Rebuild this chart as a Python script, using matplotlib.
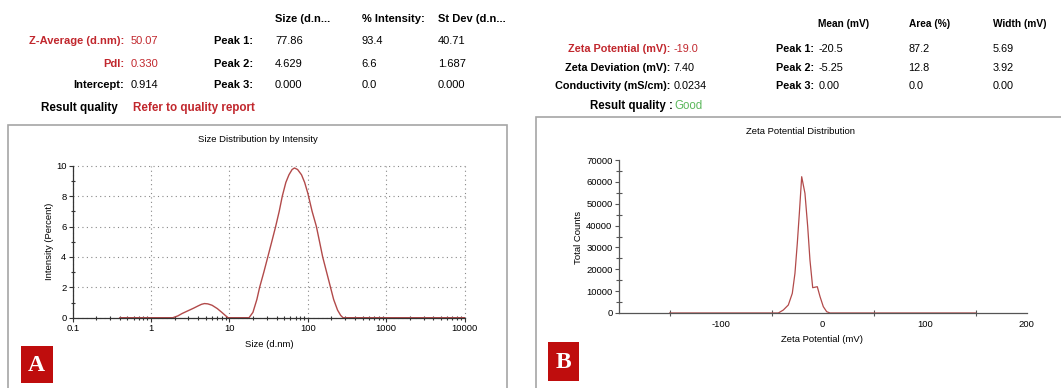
import matplotlib
matplotlib.use("Agg")
import matplotlib.pyplot as plt
from matplotlib.patches import Rectangle
from matplotlib.ticker import FixedLocator, NullFormatter, FixedFormatter

plt.rcParams['font.family'] = ['Liberation Sans', 'DejaVu Sans']
plt.rcParams['axes.unicode_minus'] = False

# ---------------- data ----------------
size_nm = [0.4, 0.6, 1.0, 1.5, 1.9, 2.2, 2.5, 3.0, 3.5, 4.0, 4.4, 4.8, 5.3, 6.0,
           7.0, 8.0, 9.0, 9.6, 12.0, 15.0, 17.8, 19.95, 22.4, 24.3, 27.5, 30.9,
           34.7, 38.9, 43.2, 47.3, 52.5, 57.5, 63.1, 67.6, 74.1, 83.2, 91.2,
           100.0, 113.5, 128.8, 141.3, 154.9, 173.8, 195.0, 213.8, 239.9, 263.0,
           281.8, 400.0, 1000.0, 3000.0, 10000.0]
intensity_pct = [0, 0, 0, 0, 0, 0.12, 0.28, 0.47, 0.63, 0.78, 0.88, 0.93, 0.91, 0.82,
                 0.6, 0.35, 0.12, 0, 0, 0, 0, 0.35, 1.2, 2.0, 3.0, 4.0,
                 5.0, 6.0, 7.0, 8.0, 8.9, 9.4, 9.75, 9.85, 9.75, 9.4, 8.9,
                 8.2, 7.0, 6.0, 5.0, 4.0, 3.0, 2.0, 1.2, 0.5, 0.15,
                 0, 0, 0, 0, 0]

zeta_mv = [-150, -100, -50, -43.5, -38.6, -33.7, -29.8, -27.2, -24.9, -22.9,
           -20.6, -17.4, -14.7, -12.5, -9.8, -5.3, -2.6, 0.6, 3.9, 7.2,
           20, 50, 100, 150]
zeta_counts = [0, 0, 0, 0, 1370, 3660, 9000, 18160, 31900, 45600,
               62360, 54760, 39500, 24250, 11580, 12030, 7460, 2900, 600, 0,
               0, 0, 0, 0]

size_ticks = [0.1, 1, 10, 100, 1000, 10000]
size_tick_labels = ["0.1", "1", "10", "100", "1000", "10000"]
zeta_ticks = [-100, 0, 100, 200]
zeta_minor = [-150, -50, 50, 150, 200]

left_header = ["Size (d.n...", "% Intensity:", "St Dev (d.n..."]
left_rows = [("Z-Average (d.nm):", "50.07", "Peak 1:", "77.86", "93.4", "40.71"),
             ("PdI:", "0.330", "Peak 2:", "4.629", "6.6", "1.687"),
             ("Intercept:", "0.914", "Peak 3:", "0.000", "0.0", "0.000")]
right_header = ["Mean (mV)", "Area (%)", "Width (mV)"]
right_rows = [("Zeta Potential (mV):", "-19.0", "Peak 1:", "-20.5", "87.2", "5.69"),
              ("Zeta Deviation (mV):", "7.40", "Peak 2:", "-5.25", "12.8", "3.92"),
              ("Conductivity (mS/cm):", "0.0234", "Peak 3:", "0.00", "0.0", "0.00")]

# ---------------- figure ----------------
W, H = 1061, 388
fig = plt.figure(figsize=(W / 100, H / 100), dpi=100)
fig.patch.set_facecolor('white')

RED = '#c1272d'
LINE = '#b24a4a'
GREEN = '#5cb85c'
BOXRED = '#bf0d0d'
GREY = '#a6a6a6'


def fx(x):
    return x / W


def fy(y):
    return 1 - y / H


def ptxt(x, y, s, **kw):
    kw.setdefault('va', 'center')
    fig.text(fx(x), fy(y), s, **kw)


def ax_rect(x0, x1, ytop, ybot):
    return [fx(x0), fy(ybot), (x1 - x0) / W, (ybot - ytop) / H]

# panel frames
fig.add_artist(Rectangle((fx(8.3), fy(395)), (506.7 - 8.3) / W, (395 - 125) / H,
                         transform=fig.transFigure, fill=False, ec=GREY, lw=1.2))
fig.add_artist(Rectangle((fx(536), fy(395)), (1070 - 536) / W, (395 - 116.7) / H,
                         transform=fig.transFigure, fill=False, ec=GREY, lw=1.2))

# ---------------- left header ----------------
fs = 8.0
ys = [40.6, 63.7, 84.7]
for x, s in zip([275, 361.7, 437.9], left_header):
    ptxt(x, 18.6, s, fontsize=fs, weight='bold', ha='left')
for i, row in enumerate(left_rows):
    col = RED if i < 2 else 'black'
    ptxt(124.3, ys[i], row[0], fontsize=fs, weight='bold', ha='right', color=col)
    ptxt(130.4, ys[i], row[1], fontsize=fs, ha='left', color=col)
    ptxt(253.3, ys[i], row[2], fontsize=fs, weight='bold', ha='right')
    for x, s in zip([275, 361.7, 437.9], row[3:]):
        ptxt(x, ys[i], s, fontsize=fs, ha='left')
ptxt(41.3, 107.7, "Result quality", fontsize=8.4, weight='bold', ha='left')
ptxt(133, 107.7, "Refer to quality report", fontsize=8.4, weight='bold', ha='left', color=RED)

# ---------------- right header ----------------
fs2 = 7.8
ys2 = [49.0, 67.7, 86.4]
for x, s in zip([818.5, 908.6, 993], right_header):
    ptxt(x, 23.7, s, fontsize=7.3, weight='bold', ha='left')
for i, row in enumerate(right_rows):
    col = RED if i == 0 else 'black'
    ptxt(670, ys2[i], row[0], fontsize=fs2, weight='bold', ha='right', color=col)
    ptxt(674, ys2[i], row[1], fontsize=fs2, ha='left', color=col)
    ptxt(814.5, ys2[i], row[2], fontsize=fs2, weight='bold', ha='right')
    for x, s in zip([818.5, 908.6, 993], row[3:]):
        ptxt(x, ys2[i], s, fontsize=fs2, ha='left')
ptxt(673, 105.7, "Result quality :", fontsize=8.3, weight='bold', ha='right')
ptxt(674, 105.7, "Good", fontsize=8.3, ha='left', color=GREEN)

# ---------------- left chart ----------------
tick_fs = 6.8
axA = fig.add_axes(ax_rect(72.7, 464.5, 165.7, 317.7))
axA.plot(size_nm, intensity_pct, color=LINE, lw=1.0)
axA.set_xscale('log')
axA.set_xlim(0.1, 10000)
axA.set_ylim(0, 10)
axA.xaxis.set_major_locator(FixedLocator(size_ticks))
axA.xaxis.set_major_formatter(FixedFormatter(size_tick_labels))
minors = [m * 10 ** e for e in range(-1, 4) for m in range(2, 10)]
axA.xaxis.set_minor_locator(FixedLocator(minors))
axA.xaxis.set_minor_formatter(NullFormatter())
axA.yaxis.set_major_locator(FixedLocator([0, 2, 4, 6, 8, 10]))
axA.yaxis.set_minor_locator(FixedLocator([1, 3, 5, 7, 9]))
for sp in ['top', 'right']:
    axA.spines[sp].set_visible(False)
for sp in ['left', 'bottom']:
    axA.spines[sp].set_color('#333333')
    axA.spines[sp].set_linewidth(0.9)
axA.tick_params(axis='both', which='major', labelsize=tick_fs, length=3, width=0.8,
                direction='out', color='#333333', pad=1.5)
axA.tick_params(axis='both', which='minor', length=3, width=0.8, direction='inout',
                color='#333333')
axA.grid(True, which='major', linestyle=(0, (1, 3)), color='#888888', lw=0.8)
axA.set_axisbelow(True)
for gl in axA.get_xgridlines() + axA.get_ygridlines():
    gl.set_clip_on(False)
ptxt(258.3, 139, "Size Distribution by Intensity", fontsize=6.8, ha='center')
ptxt(269, 344.3, "Size (d.nm)", fontsize=6.8, ha='center')
ptxt(49, 241.7, "Intensity (Percent)", fontsize=6.8, ha='center', rotation=90)

# ---------------- right chart ----------------
axB = fig.add_axes(ax_rect(618.7, 1026.7, 160, 313))
axB.plot(zeta_mv, zeta_counts, color=LINE, lw=0.9)
axB.set_xlim(-200, 200)
axB.set_ylim(0, 70000)
axB.xaxis.set_major_locator(FixedLocator(zeta_ticks))
axB.xaxis.set_minor_locator(FixedLocator(zeta_minor))
axB.yaxis.set_major_locator(FixedLocator(list(range(0, 70001, 10000))))
axB.yaxis.set_minor_locator(FixedLocator(list(range(5000, 70000, 10000))))
for sp in ['top', 'right']:
    axB.spines[sp].set_visible(False)
for sp in ['left', 'bottom']:
    axB.spines[sp].set_color('#555555')
    axB.spines[sp].set_linewidth(0.9)
axB.tick_params(axis='x', which='major', labelsize=tick_fs, length=0, pad=5)
axB.tick_params(axis='y', which='major', labelsize=tick_fs, length=3, width=0.8,
                direction='out', color='#555555', pad=1.5)
axB.tick_params(axis='both', which='minor', length=4, width=0.8, direction='inout',
                color='#555555')
ptxt(800.9, 131.9, "Zeta Potential Distribution", fontsize=6.8, ha='center')
ptxt(822, 340, "Zeta Potential (mV)", fontsize=6.8, ha='center')
ptxt(578.4, 237, "Total Counts", fontsize=6.8, ha='center', rotation=90)

# ---------------- panel letters ----------------
for (x0, x1, y0, y1, s) in [(20.7, 52.7, 345.7, 383.3, "A"), (547.6, 579.1, 341.9, 380.8, "B")]:
    fig.add_artist(Rectangle((fx(x0), fy(y1)), (x1 - x0) / W, (y1 - y0) / H,
                             transform=fig.transFigure, fc=BOXRED, ec='none'))
    fig.text(fx((x0 + x1) / 2), fy((y0 + y1) / 2 + 1), s, ha='center', va='center',
             color='white', fontsize=17, weight='bold', family='Liberation Serif')

fig.savefig("out.png", dpi=100)
